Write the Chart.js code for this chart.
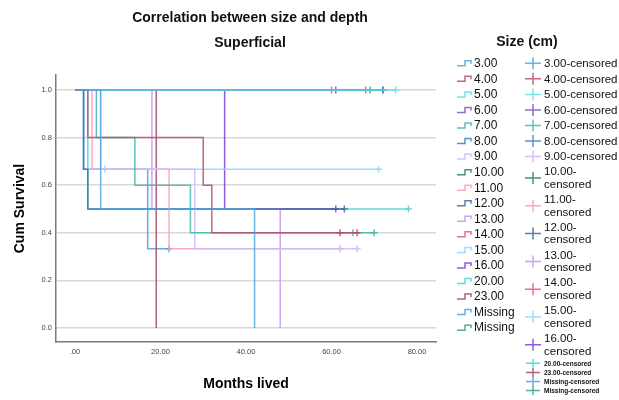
<!DOCTYPE html>
<html><head><meta charset="utf-8">
<script src="https://cdn.jsdelivr.net/npm/chart.js@4.4.1/dist/chart.umd.min.js"></script>
<style>html,body{margin:0;padding:0;background:#fff;}canvas{display:block;}</style>
</head><body>
<canvas id="c" width="619" height="400"></canvas>
<script>
const chartTitle = 'Correlation between size and depth';
const subTitle = 'Superficial';
const legendTitle = 'Size (cm)';
const xAxisTitle = 'Months lived';
const yAxisTitle = 'Cum Survival';
const censorSuffix = '-censored';

const categories = ['3.00','4.00','5.00','6.00','7.00','8.00','9.00','10.00','11.00','12.00','13.00','14.00','15.00','16.00','20.00','23.00','Missing','Missing'];
const xTicks = [0, 20, 40, 60, 80];
const yTicks = [0, 0.2, 0.4, 0.6, 0.8, 1.0];

// Kaplan-Meier: event (death) times, survival after each event, censor times (months)
const eventTimes = [[6,42],[3,30,32],[],[],[5,14,27],[],[6,28],[],[4,22],[2,3],[18,48],[],[2],[35],[3],[19],[2,17],[]];
const survivalAfter = [[0.5,0.0],[0.8,0.6,0.4],[],[],[0.8,0.6,0.4],[],[0.667,0.333],[],[0.667,0.333],[0.667,0.5],[0.5,0.0],[],[0.667],[0.5],[0.5],[0.0],[0.667,0.333],[]];
const censorTimes = [[],[62,66],[75],[61],[65,70],[72],[66],[72],[62],[63],[],[60,68],[7,71],[61],[78],[],[22],[69]];

const colors = ['rgba(74,168,224,0.85)','rgba(184,74,114,0.85)','rgba(94,230,230,0.9)','rgba(123,82,200,0.85)','rgba(64,184,168,0.85)','rgba(59,127,196,0.85)','rgba(205,190,255,0.9)','rgba(46,136,120,0.9)','rgba(255,158,192,0.9)','rgba(61,106,154,0.85)','rgba(196,154,245,0.9)','rgba(232,85,126,0.85)','rgba(150,215,255,0.9)','rgba(122,63,216,0.85)','rgba(79,216,208,0.9)','rgba(160,72,106,0.85)','rgba(70,160,232,0.85)','rgba(58,158,142,0.85)'];

const FONT = '"Liberation Sans", Arial, sans-serif';
Chart.defaults.font.family = FONT;

function survAt(i, t) {
  let s = 1;
  eventTimes[i].forEach((e, j) => { if (e <= t) s = survivalAfter[i][j]; });
  return s;
}

const datasets = [];
categories.forEach((cat, i) => {
  const pts = [{x: 0, y: 1}];
  let s = 1;
  eventTimes[i].forEach((t, j) => { s = survivalAfter[i][j]; pts.push({x: t, y: s}); });
  const ev = eventTimes[i];
  const lastEv = ev.length ? ev[ev.length - 1] : 0;
  const cs = censorTimes[i];
  const maxC = cs.length ? Math.max(...cs) : 0;
  if (maxC > lastEv) pts.push({x: maxC, y: s});
  datasets.push({type: 'line', label: cat, data: pts, stepped: 'before', borderColor: colors[i], borderWidth: 1.5, pointRadius: 0, fill: false});
  datasets.push({type: 'scatter', label: cat + censorSuffix, data: cs.map(c => ({x: c, y: survAt(i, c)})), pointStyle: 'cross', pointRadius: 3.5, borderColor: colors[i], borderWidth: 1.5, showLine: false});
});

const kmLegend = {
  id: 'kmLegend',
  afterDraw(chart) {
    const ctx = chart.ctx;
    ctx.save();
    ctx.fillStyle = '#111';
    ctx.textAlign = 'center';
    ctx.textBaseline = 'middle';
    ctx.font = 'bold 14px ' + FONT;
    ctx.fillText(chartTitle, 250, 18);
    ctx.fillText(subTitle, 250, 43);
    ctx.fillText(legendTitle, 527, 42);
    ctx.textAlign = 'left';
    ctx.lineWidth = 1.5;
    categories.forEach((cat, i) => {
      const y = 63.3 + 15.55 * i;
      ctx.strokeStyle = colors[i];
      ctx.beginPath();
      ctx.moveTo(457, y + 2.5); ctx.lineTo(465, y + 2.5); ctx.lineTo(465, y - 2.5);
      ctx.lineTo(471, y - 2.5); ctx.lineTo(471, y + 0.5);
      ctx.stroke();
      ctx.fillStyle = '#111';
      ctx.font = '12px ' + FONT;
      ctx.fillText(cat, 474, y + 0.5);
      // censored column
      let cy, lines, fnt, hw, hh;
      if (i < 7) { cy = y; lines = [cat + censorSuffix]; fnt = '11.5px ' + FONT; hw = 8; hh = 6; }
      else if (i < 14) { const ty = 171.7 + 27.8 * (i - 7); cy = ty + 6.3; lines = [cat + '-', 'censored']; fnt = '11.5px ' + FONT; hw = 8; hh = 6; }
      else { cy = 363.3 + 9.1 * (i - 14); lines = [cat + censorSuffix]; fnt = 'bold 6.5px ' + FONT; hw = 7; hh = 4.5; }
      ctx.beginPath();
      ctx.moveTo(533 - hw, cy); ctx.lineTo(533 + hw, cy);
      ctx.moveTo(533, cy - hh); ctx.lineTo(533, cy + hh);
      ctx.stroke();
      ctx.font = fnt;
      if (lines.length === 1) ctx.fillText(lines[0], 544, cy + 0.5);
      else { ctx.fillText(lines[0], 544, cy - 6); ctx.fillText(lines[1], 544, cy + 6.7); }
    });
    ctx.restore();
  }
};

new Chart(document.getElementById('c'), {
  type: 'line',
  data: {datasets},
  options: {
    responsive: false,
    animation: false,
    events: [],
    layout: {padding: {left: 0, right: 183, top: 75, bottom: 0}},
    plugins: {legend: {display: false}, tooltip: {enabled: false}, title: {display: false}},
    scales: {
      x: {
        type: 'linear', min: -4.444, max: 84.44,
        afterBuildTicks: s => { s.ticks = xTicks.map(v => ({value: v})); },
        afterFit: s => { s.height = 58; },
        ticks: {callback: v => v === 0 ? '.00' : v.toFixed(2), font: {size: 7.5}, color: '#444', padding: 5, autoSkip: false, maxRotation: 0},
        grid: {display: false, drawTicks: false},
        border: {color: '#7a7a7a', width: 1.5},
        title: {display: true, text: xAxisTitle, font: {size: 14, weight: 'bold'}, color: '#000', padding: {top: 0, bottom: 7.6}}
      },
      y: {
        type: 'linear', min: -0.0588, max: 1.063,
        afterBuildTicks: s => { s.ticks = yTicks.map(v => ({value: v})); },
        afterFit: s => { s.width = 56; },
        ticks: {callback: v => v.toFixed(1), font: {size: 7.5}, color: '#444', padding: 4},
        grid: {color: '#d8d8d8', lineWidth: 1.5, drawTicks: false},
        border: {color: '#7a7a7a', width: 1.5},
        title: {display: true, text: yAxisTitle, font: {size: 14, weight: 'bold'}, color: '#000', padding: {top: 12, bottom: 0}}
      }
    }
  },
  plugins: [kmLegend]
});
</script>
</body></html>
